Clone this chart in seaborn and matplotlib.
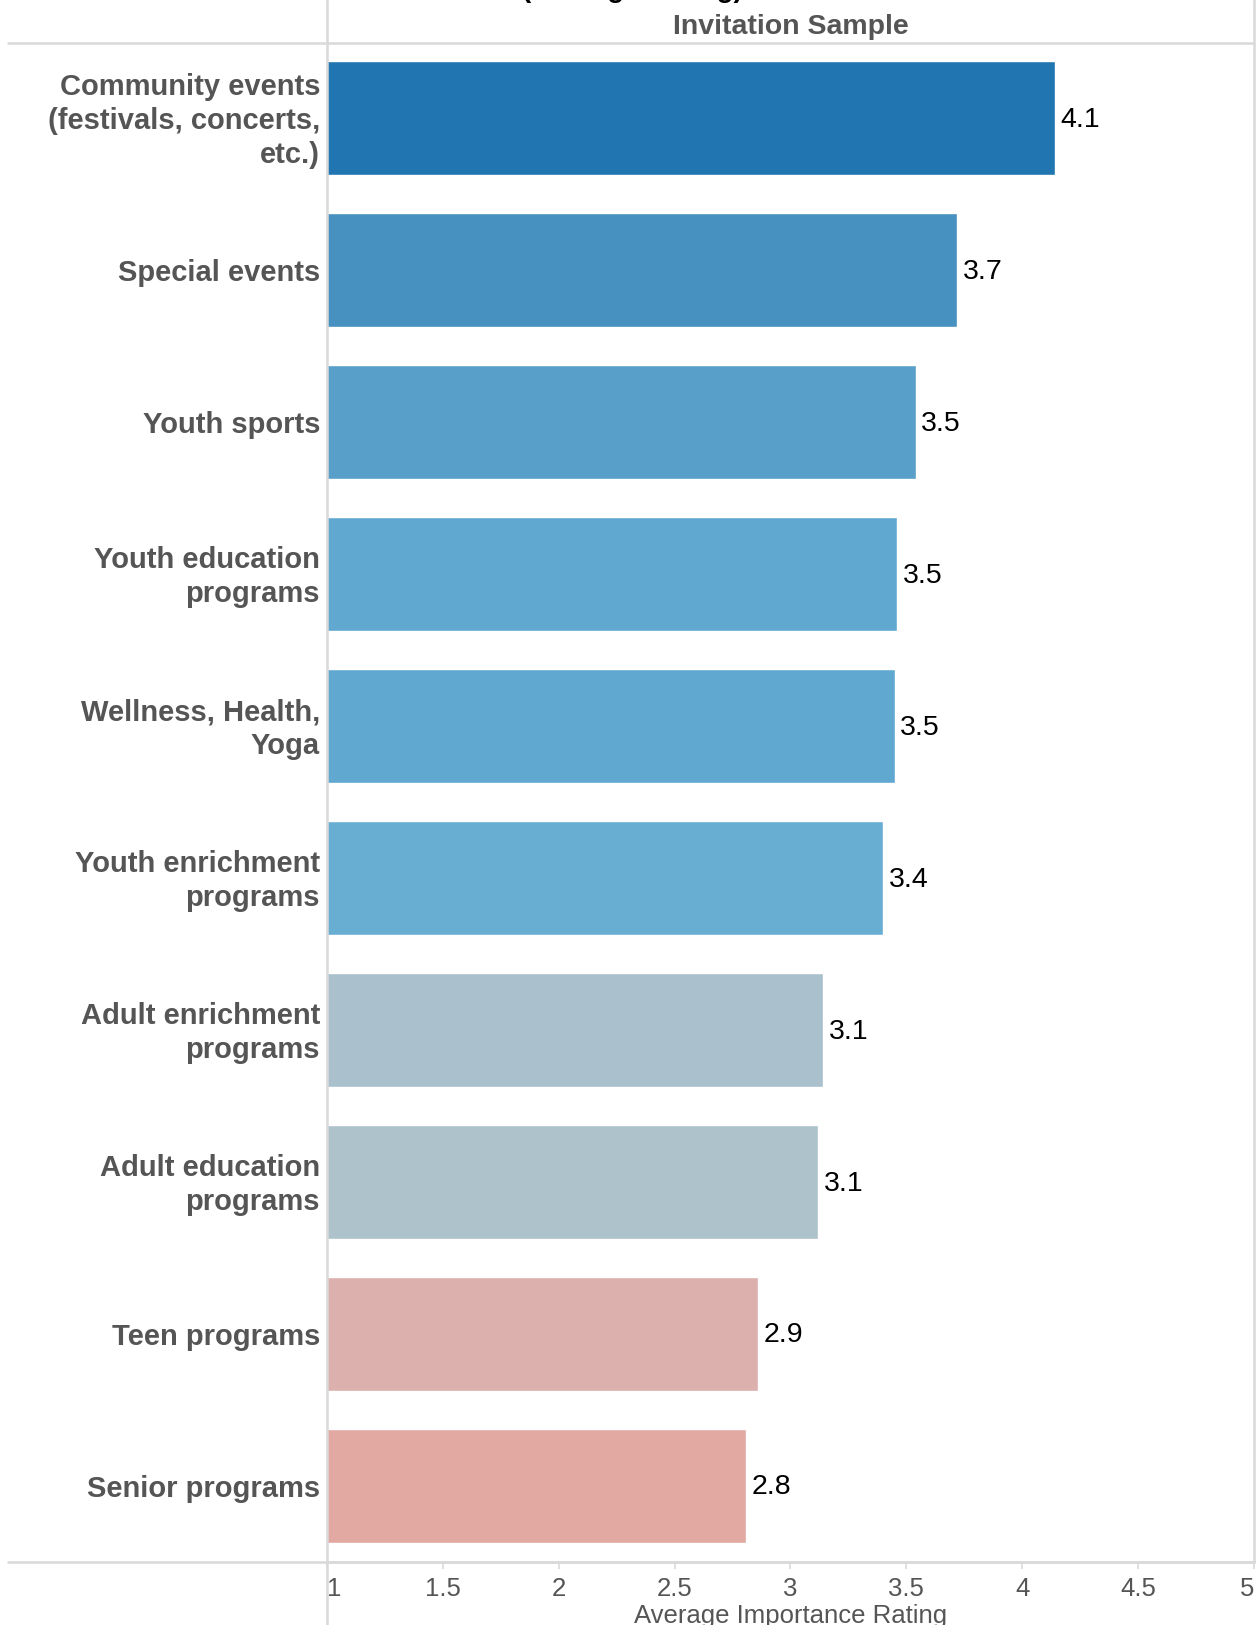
import matplotlib
matplotlib.use("Agg")
import matplotlib.pyplot as plt
from matplotlib.lines import Line2D
import seaborn as sns
import pandas as pd

# Program categories and their average importance ratings
categories = [
    "Community events\n(festivals, concerts,\netc.)",
    "Special events",
    "Youth sports",
    "Youth education\nprograms",
    "Wellness, Health,\nYoga",
    "Youth enrichment\nprograms",
    "Adult enrichment\nprograms",
    "Adult education\nprograms",
    "Teen programs",
    "Senior programs",
]
ratings = [4.14, 3.72, 3.54, 3.46, 3.45, 3.40, 3.14, 3.12, 2.86, 2.81]
bar_colors = [
    "#2176B1", "#4691C0", "#58A0C9", "#61A8D1", "#61A8D1",
    "#68ADD2", "#AAC1CD", "#AEC2CB", "#DCB0AC", "#E2A8A2",
]
x_ticks = [1, 1.5, 2, 2.5, 3, 3.5, 4, 4.5, 5]
x_tick_labels = ["1", "1.5", "2", "2.5", "3", "3.5", "4", "4.5", "5"]

sns.set_theme(style="white")
plt.rcParams["font.family"] = ["Liberation Sans", "DejaVu Sans"]
NARROW = ["Liberation Sans Narrow", "Liberation Sans", "DejaVu Sans"]
GREY = "#555555"
RULE = "#D9D9D9"

df = pd.DataFrame({"category": categories, "rating": ratings})

W, H = 1257, 1625
fig = plt.figure(figsize=(W / 100, H / 100), dpi=100)
ax_left, ax_right = 327 / W, 1254 / W
ax_top, ax_bottom = 1 - 42.5 / H, 1 - 1562 / H
ax = fig.add_axes([ax_left, ax_bottom, ax_right - ax_left, ax_top - ax_bottom])

sns.barplot(
    data=df, y="category", x="rating", hue="category",
    palette=bar_colors, legend=False, width=0.75, saturation=1,
    orient="h", ax=ax,
)

ax.set_xlim(1, 5)
ax.set_ylim(9.5, -0.5)

# value labels at the end of each bar
for i, v in enumerate(ratings):
    ax.annotate(f"{v:.1f}", xy=(v, i), xytext=(4, -1), textcoords="offset points",
                ha="left", va="center", fontsize=20.5, color="black")

# category labels to the left of the axis, centred on each bar
ax.set_yticks(range(len(categories)))
ax.set_yticklabels([])
ax.tick_params(axis="y", length=0)
for i, name in enumerate(categories):
    ax.annotate(name, xy=(0, i), xycoords=("axes fraction", "data"),
                xytext=(-5, -2), textcoords="offset points",
                ha="right", va="center", multialignment="right",
                fontsize=21, fontweight="bold", color=GREY, linespacing=1.27)

# axes styling
for side in ["top", "left", "right"]:
    ax.spines[side].set_visible(False)
ax.spines["bottom"].set_color(RULE)
ax.spines["bottom"].set_linewidth(1.8)

ax.set_xticks(x_ticks)
ax.set_xticklabels(x_tick_labels, fontsize=18.5, color=GREY, family=NARROW)
tl = ax.get_xticklabels()
tl[0].set_ha("left")
tl[-1].set_ha("right")
ax.tick_params(axis="x", direction="out", length=5, width=1.2, color=RULE, pad=6, bottom=True)

ax.set_ylabel("")
ax.set_xlabel("Average Importance Rating", fontsize=18.5, color=GREY, family=NARROW, labelpad=2)

# header and frame rules in figure coordinates
fig.add_artist(Line2D([8 / W, ax_right], [ax_top, ax_top], color=RULE, lw=1.8))
fig.add_artist(Line2D([8 / W, ax_right], [ax_bottom, ax_bottom], color=RULE, lw=1.8))
fig.add_artist(Line2D([ax_left, ax_left], [0, 1], color=RULE, lw=1.8))
fig.add_artist(Line2D([ax_right, ax_right], [ax_bottom, 1], color=RULE, lw=1.8))

# header text
fig.text((ax_left + ax_right) / 2, 1 - 27 / H, "Invitation Sample", ha="center", va="center",
         fontsize=20.5, fontweight="bold", color=GREY, family=NARROW)
fig.text(632 / W, 1 + 3 / H, "(Average Rating)", ha="center", va="baseline",
         fontsize=20, fontweight="bold", color="black", family=NARROW)

fig.savefig("out.png", dpi=100)
